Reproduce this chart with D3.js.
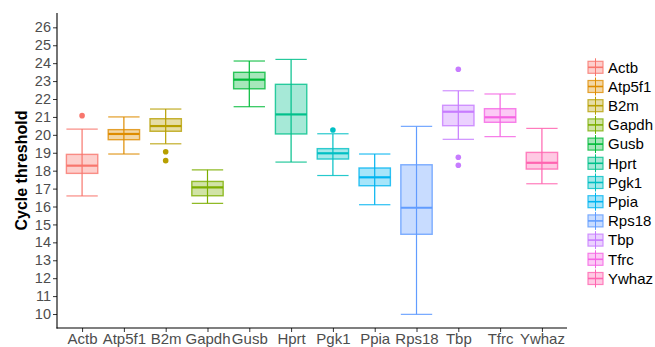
<!DOCTYPE html>
<html>
<head>
<meta charset="utf-8">
<script src="https://cdn.jsdelivr.net/npm/d3@7"></script>
<style>
  body { margin: 0; background: #fff; }
  text { font-family: "Liberation Sans", Arial, sans-serif; }
</style>
</head>
<body>
<div id="chart"></div>
<script>
// reference genes and their Ct distributions
const genes = ["Actb", "Atp5f1", "B2m", "Gapdh", "Gusb", "Hprt", "Pgk1", "Ppia", "Rps18", "Tbp", "Tfrc", "Ywhaz"]
const whiskerLow = [16.59, 18.93, 19.50, 16.18, 21.57, 18.48, 17.73, 16.10, 9.98, 19.75, 19.90, 17.27]
const q1 = [17.85, 19.73, 20.20, 16.60, 22.57, 20.05, 18.65, 17.16, 14.45, 20.51, 20.70, 18.09]
const median = [18.28, 20.05, 20.49, 17.07, 23.08, 21.14, 18.97, 17.63, 15.93, 21.29, 20.98, 18.44]
const q3 = [18.91, 20.29, 20.90, 17.40, 23.49, 22.82, 19.23, 18.15, 18.33, 21.65, 21.46, 19.02]
const whiskerHigh = [20.32, 21.00, 21.44, 18.05, 24.12, 24.21, 20.06, 18.93, 20.47, 22.46, 22.28, 20.36]
const outliers = [[21.07], [], [19.06, 18.56], [], [], [], [20.27], [], [], [23.66, 18.75, 18.30], [], []]
const yTicks = d3.range(10, 27)

const colors = ["#F8766D", "#DE8C00", "#B79F00", "#7CAE00", "#00BA38", "#00C08B",
  "#00BFC4", "#00B4F0", "#619CFF", "#C77CFF", "#F564E3", "#FF64B0"]

const WIDTH = 655, HEIGHT = 347
const PANEL = { LEFT: 57, RIGHT: 567, TOP: 13, BOTTOM: 328 }

const svg = d3.select("#chart").append("svg")
  .attr("width", WIDTH)
  .attr("height", HEIGHT)
  .style("display", "block")

const data = genes.map((g, i) => ({
  gene: g, lo: whiskerLow[i], q1: q1[i], med: median[i], q3: q3[i], hi: whiskerHigh[i],
  out: outliers[i], color: colors[i]
}))

const x = d3.scalePoint()
  .domain(genes)
  .range([PANEL.LEFT, PANEL.RIGHT])
  .padding(0.6)

const y = d3.scaleLinear()
  .domain([9.22, 26.8])
  .range([PANEL.BOTTOM, PANEL.TOP])

const boxW = x.step() * 0.75

const g = svg.append("g")

const box = g.selectAll("g.box")
  .data(data)
  .enter().append("g")
  .attr("class", "box")

// whisker (errorbar) drawn first, box on top
box.append("line")
  .attr("x1", d => x(d.gene)).attr("x2", d => x(d.gene))
  .attr("y1", d => y(d.lo)).attr("y2", d => y(d.hi))
  .attr("stroke", d => d.color).attr("stroke-width", 1.2)
box.append("line")
  .attr("x1", d => x(d.gene) - boxW / 2).attr("x2", d => x(d.gene) + boxW / 2)
  .attr("y1", d => y(d.hi)).attr("y2", d => y(d.hi))
  .attr("stroke", d => d.color).attr("stroke-width", 1.2).attr("stroke-opacity", 0.85)
box.append("line")
  .attr("x1", d => x(d.gene) - boxW / 2).attr("x2", d => x(d.gene) + boxW / 2)
  .attr("y1", d => y(d.lo)).attr("y2", d => y(d.lo))
  .attr("stroke", d => d.color).attr("stroke-width", 1.2).attr("stroke-opacity", 0.85)

box.append("rect")
  .attr("x", d => x(d.gene) - boxW / 2)
  .attr("width", boxW)
  .attr("y", d => y(d.q3))
  .attr("height", d => y(d.q1) - y(d.q3))
  .attr("fill", d => d.color).attr("fill-opacity", 0.35)
  .attr("stroke", d => d.color).attr("stroke-opacity", 0.8).attr("stroke-width", 1.4)

box.append("line")
  .attr("x1", d => x(d.gene) - boxW / 2).attr("x2", d => x(d.gene) + boxW / 2)
  .attr("y1", d => y(d.med)).attr("y2", d => y(d.med))
  .attr("stroke", d => d.color).attr("stroke-width", 2.2)

box.selectAll("circle")
  .data(d => d.out.map(v => ({ v: v, gene: d.gene, color: d.color })))
  .enter().append("circle")
  .attr("cx", d => x(d.gene))
  .attr("cy", d => y(d.v))
  .attr("r", 2.8)
  .attr("fill", d => d.color)

// axes
const yAxisCall = d3.axisLeft(y).tickValues(yTicks).tickSize(4).tickPadding(2)
const xAxisCall = d3.axisBottom(x).tickSize(4).tickPadding(1)

const yAxis = svg.append("g")
  .attr("transform", `translate(${PANEL.LEFT}, 0)`)
  .call(yAxisCall)
yAxis.select(".domain").remove()
yAxis.selectAll(".tick line").attr("stroke", "#333")
yAxis.selectAll("text").attr("fill", "#4D4D4D").attr("font-size", "14.5px")

const xAxis = svg.append("g")
  .attr("transform", `translate(0, ${PANEL.BOTTOM})`)
  .call(xAxisCall)
xAxis.select(".domain").remove()
xAxis.selectAll(".tick line").attr("stroke", "#333")
xAxis.selectAll("text").attr("fill", "#4D4D4D").attr("font-size", "15px")

svg.append("line")
  .attr("x1", PANEL.LEFT).attr("x2", PANEL.LEFT)
  .attr("y1", PANEL.TOP).attr("y2", PANEL.BOTTOM + 0.5)
  .attr("stroke", "#000").attr("stroke-width", 1.1)
svg.append("line")
  .attr("x1", PANEL.LEFT - 0.5).attr("x2", PANEL.RIGHT)
  .attr("y1", PANEL.BOTTOM).attr("y2", PANEL.BOTTOM)
  .attr("stroke", "#000").attr("stroke-width", 1.1)

svg.append("text")
  .attr("transform", `translate(27, ${(PANEL.TOP + PANEL.BOTTOM) / 2}) rotate(-90)`)
  .attr("text-anchor", "middle")
  .attr("font-size", "16px")
  .attr("font-weight", "bold")
  .text("Cycle threshold")

// legend
const legend = svg.append("g")
  .attr("transform", "translate(588, 67.3)")

const key = legend.selectAll("g.key")
  .data(data)
  .enter().append("g")
  .attr("class", "key")
  .attr("transform", (d, i) => `translate(0, ${i * 19.2})`)

key.append("line")
  .attr("x1", 7.5).attr("x2", 7.5).attr("y1", -9).attr("y2", 9)
  .attr("stroke", d => d.color).attr("stroke-width", 1)
key.append("rect")
  .attr("x", 0).attr("y", -6).attr("width", 15).attr("height", 12)
  .attr("fill", d => d.color).attr("fill-opacity", 0.35)
  .attr("stroke", d => d.color).attr("stroke-opacity", 0.8).attr("stroke-width", 1.2)
key.append("line")
  .attr("x1", 0).attr("x2", 15).attr("y1", 0).attr("y2", 0)
  .attr("stroke", d => d.color).attr("stroke-width", 1.6)
key.append("text")
  .attr("x", 20).attr("y", 0).attr("dy", "0.35em")
  .attr("font-size", "15px")
  .attr("fill", "#000")
  .text(d => d.gene)
</script>
</body>
</html>
